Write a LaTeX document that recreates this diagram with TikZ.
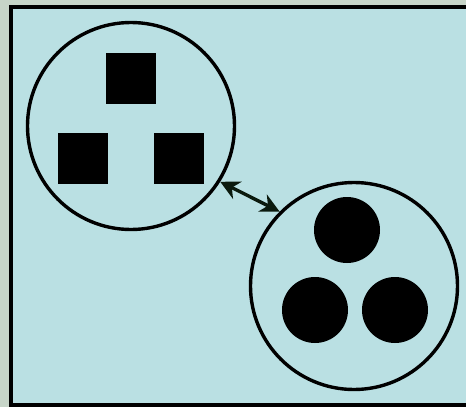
\documentclass[tikz,border=0pt]{standalone}
\usetikzlibrary{arrows.meta}
\definecolor{outerbg}{HTML}{C7D5C8}
\definecolor{panel}{HTML}{BAE0E3}
\definecolor{arrowc}{HTML}{0B1A0E}
\tikzset{
  group/.style={circle, draw=black, line width=3.4pt, minimum size=207pt, inner sep=0pt},
  sq/.style={rectangle, fill=black, minimum size=50.5pt, inner sep=0pt},
  dot/.style={circle, fill=black, minimum size=66pt, inner sep=0pt},
  tipshape/.style={Stealth[length=19pt,width=19pt,inset=6pt]},
  link/.style={draw=arrowc, line width=3.4pt, {Stealth[length=19pt,width=19pt,inset=6pt]}-{Stealth[length=19pt,width=19pt,inset=6pt]}}
}
\begin{document}
\begin{tikzpicture}[x=1pt,y=-1pt]
\useasboundingbox (0,0) rectangle (466,407);
\clip (0,0) rectangle (466,407);
\fill[outerbg] (0,0) rectangle (466,407);
\filldraw[fill=panel, draw=black, line width=4pt] (11,6.5) rectangle (480,404.5);
\node[group] (g1) at (131,126) {};
\node[group] (g2) at (354,286) {};
\node[sq] (s1) at (131,78.5) {};
\node[sq] (s2) at (83,158.5) {};
\node[sq] (s3) at (179,158.5) {};
\node[dot] (d1) at (347,230) {};
\node[dot] (d2) at (315,310) {};
\node[dot] (d3) at (395,310) {};
\draw[link] (g1.-32) -- (g2.135);
\end{tikzpicture}
\end{document}
